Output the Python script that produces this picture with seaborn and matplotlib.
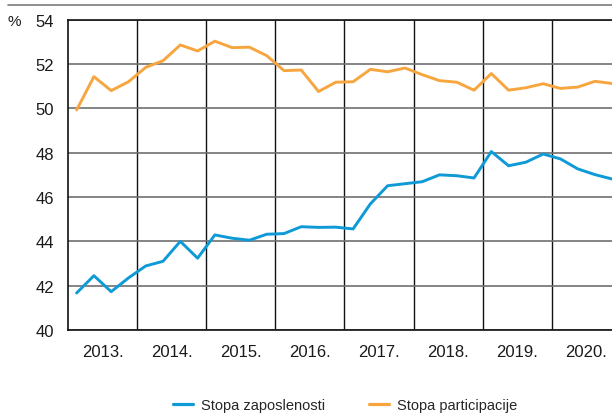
import numpy as np
import pandas as pd
import matplotlib
matplotlib.use("Agg")
import matplotlib.pyplot as plt
from matplotlib.lines import Line2D
import seaborn as sns

years = ["2013.", "2014.", "2015.", "2016.", "2017.", "2018.", "2019.", "2020."]
quarters = list(range(32))
zaposlenost = [41.67, 42.45, 41.73, 42.35, 42.89, 43.10, 44.00, 43.24,
               44.29, 44.14, 44.05, 44.32, 44.35, 44.66, 44.63, 44.64,
               44.56, 45.69, 46.51, 46.60, 46.69, 47.00, 46.96, 46.86,
               48.05, 47.41, 47.57, 47.94, 47.72, 47.27, 47.01, 46.81]
participacija = [49.93, 51.43, 50.80, 51.20, 51.85, 52.15, 52.86, 52.59,
                 53.03, 52.74, 52.76, 52.38, 51.70, 51.73, 50.76, 51.18,
                 51.20, 51.76, 51.65, 51.82, 51.52, 51.25, 51.18, 50.82,
                 51.57, 50.82, 50.93, 51.11, 50.90, 50.96, 51.22, 51.12]
series_names = ["Stopa zaposlenosti", "Stopa participacije"]
colors = ["#0e9ad7", "#f7a63f"]

df = pd.DataFrame({
    "q": quarters * 2,
    "val": zaposlenost + participacija,
    "serie": [series_names[0]] * 32 + [series_names[1]] * 32,
})

sns.set_style("white")
plt.rcParams["font.family"] = ["Liberation Sans", "DejaVu Sans"]

fig = plt.figure(figsize=(6.12, 4.14), dpi=100)
ax = fig.add_axes([68 / 612, 1 - 331 / 414, 1 - 68 / 612 + 0.001, (331 - 20.7) / 414])

sns.lineplot(data=df, x="q", y="val", hue="serie", palette=colors, ax=ax,
             linewidth=2.1, legend=False)

ax.set_xlim(-0.5, 31.02)
ax.set_ylim(40, 54)
ax.set_yticks(range(40, 55, 2))
ax.set_xticks([1.5 + 4 * i for i in range(len(years))])
ax.set_xticklabels(years)
ax.set_xticks([3.5 + 4 * i for i in range(7)], minor=True)
ax.tick_params(axis="both", which="both", length=0, labelsize=12, colors="#1a1a1a")
ax.tick_params(axis="y", pad=10)
ax.tick_params(axis="x", pad=10)
ax.set_xlabel("")
ax.set_ylabel("")

ax.grid(axis="y", which="major", color="#6f6f6f", linewidth=1.2)
ax.grid(axis="x", which="minor", color="#111111", linewidth=1.0)
ax.grid(axis="x", which="major", visible=False)
for s in ["left", "bottom", "top"]:
    ax.spines[s].set_visible(True)
    ax.spines[s].set_color("#111111")
    ax.spines[s].set_linewidth(1.2)
ax.spines["right"].set_visible(False)

fig.text(8 / 612, 1 - 22 / 414, "%", fontsize=11, ha="left", va="center", color="#1a1a1a")
fig.add_artist(Line2D([8 / 612, 1], [1 - 6 / 414, 1 - 6 / 414], color="#7a7a7a", linewidth=1.2))

handles = [Line2D([0], [0], color=c, linewidth=2.3) for c in colors]
fig.legend(handles, series_names, loc="center", bbox_to_anchor=(345 / 612, 1 - 406 / 414),
           ncol=2, frameon=False, fontsize=10.5, handlelength=1.35, handletextpad=0.55,
           columnspacing=3.0)

fig.savefig("out.png", dpi=100)
